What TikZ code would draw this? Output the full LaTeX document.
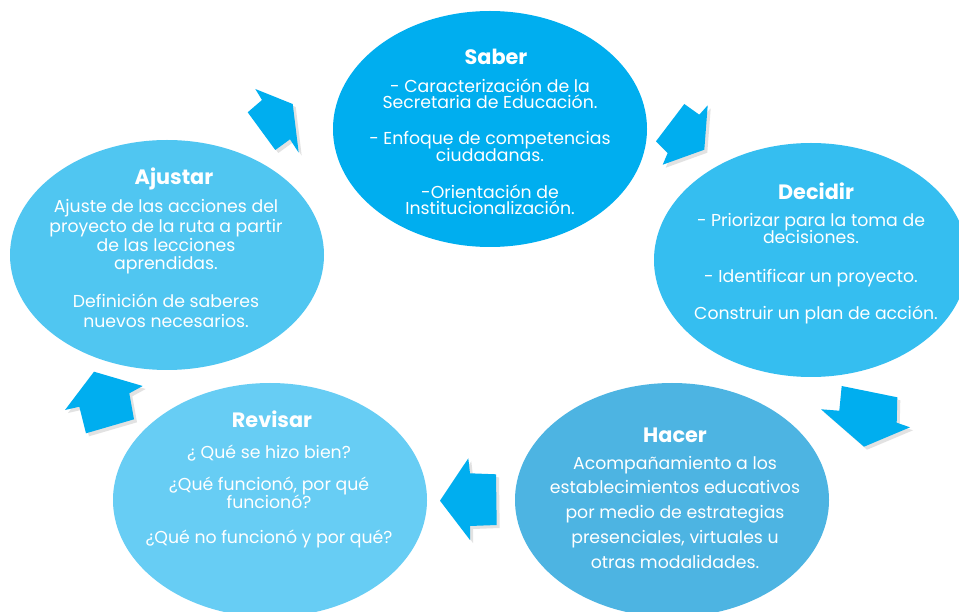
\documentclass[tikz,border=0pt]{standalone}
\usepackage{fontspec}
\setmainfont{Poppins}
\usetikzlibrary{shapes.geometric}
\definecolor{saberc}{RGB}{0,174,239}
\definecolor{decidirc}{RGB}{53,190,240}
\definecolor{hacerc}{RGB}{77,180,226}
\definecolor{revisarc}{RGB}{103,205,244}
\definecolor{ajustarc}{RGB}{80,198,241}
\definecolor{arrowc}{RGB}{0,174,239}
\definecolor{shadowc}{RGB}{226,226,226}
\tikzset{
  bubble/.style={ellipse, minimum width=314pt, minimum height=234pt, inner sep=0pt, draw=none},
  ttl/.style={anchor=base, text=white, font=\fontsize{20.8}{22}\selectfont\bfseries, inner sep=0pt},
  bodytxt/.style={anchor=base, text=white, font=\fontsize{17.3}{19}\selectfont, inner sep=0pt},
  blockarrow/.style={fill=arrowc, draw=none},
  arrowshadow/.style={fill=shadowc, draw=none, shift={(3,3)}},
}
\newcommand\bline[4]{\node[bodytxt] (#1) at (#2,#3) {#4};}
\begin{document}
\begin{tikzpicture}[x=1pt,y=-1pt]
\useasboundingbox (0,0) rectangle (959,612);
\clip (0,0) rectangle (959,612);
\fill[white] (0,0) rectangle (959,612);

% bubbles
\node[bubble, fill=saberc, minimum height=236pt] (saber) at (490,129) {};
\node[bubble, fill=decidirc] (decidir) at (811,260) {};
\node[bubble, fill=hacerc] (hacer) at (672,500) {};
\node[bubble, fill=revisarc] (revisar) at (270,500) {};
\node[bubble, fill=ajustarc, minimum height=230pt] (ajustar) at (167,255) {};

% block arrows (shadow first)
\foreach \s in {arrowshadow,blockarrow}{
  \path[\s] (255.3,89) -- (292.7,104) -- (298.7,152.7) -- (290,139.3) -- (275.3,150) -- (247.7,112.3) -- (262,100) -- cycle;
  \path[\s] (684.3,104) -- (699.3,114.7) -- (707.7,105.3) -- (704.3,149.7) -- (662.7,164.7) -- (667.7,153) -- (656,141.3) -- cycle;
  \path[\s] (841.7,386) -- (897.3,397.3) -- (896.7,422.7) -- (910,427.3) -- (864,446.7) -- (821,409.3) -- (839.3,410.7) -- cycle;
  \path[\s] (468.3,458.3) -- (470,473.3) -- (496,474.3) -- (496.7,525) -- (470,526) -- (470,540) -- (440,500.7) -- cycle;
  \path[\s] (94,371.7) -- (142.7,386) -- (129.3,393.3) -- (134,419.3) -- (86,433.3) -- (79.3,406.7) -- (65,410) -- cycle;
}

% Saber
\node[ttl] (saberT) at (496,65) {Saber};
\bline{s1}{490}{93}{- Caracterización de la}
\bline{s2}{490}{109}{Secretaria de Educación.}
\bline{s3}{490}{145}{- Enfoque de competencias}
\bline{s4}{490}{162}{ciudadanas.}
\bline{s5}{490}{199}{-Orientación de}
\bline{s6}{490}{215}{Institucionalización.}

% Decidir
\node[ttl] (decidirT) at (816,200) {Decidir};
\bline{d1}{811}{227}{- Priorizar para la toma de}
\bline{d2}{811}{244}{decisiones.}
\bline{d3}{811}{283}{- Identificar un proyecto.}
\bline{d4}{816}{320}{Construir un plan de acción.}

% Hacer
\node[ttl] (hacerT) at (675,442) {Hacer};
\bline{h1}{675}{469}{Acompañamiento a los}
\bline{h2}{675}{493}{establecimientos educativos}
\bline{h3}{675}{518}{por medio de estrategias}
\bline{h4}{675}{543}{presenciales, virtuales u}
\bline{h5}{675}{568}{otras modalidades.}

% Revisar
\node[ttl] (revisarT) at (272,428) {Revisar};
\bline{r1}{269}{458}{¿ Qué se hizo bien?}
\bline{r2}{269}{490}{¿Qué funcionó, por qué}
\bline{r3}{269}{508}{funcionó?}
\bline{r4}{269}{543}{¿Qué no funcionó y por qué?}

% Ajustar
\node[ttl] (ajustarT) at (174,185) {Ajustar};
\bline{a1}{166}{213}{Ajuste de las acciones del}
\bline{a2}{166}{233}{proyecto de la ruta a partir}
\bline{a3}{166}{252}{de las lecciones}
\bline{a4}{166}{270}{aprendidas.}
\bline{a5}{166}{308}{Definición de saberes}
\bline{a6}{166}{328}{nuevos necesarios.}
\end{tikzpicture}
\end{document}
